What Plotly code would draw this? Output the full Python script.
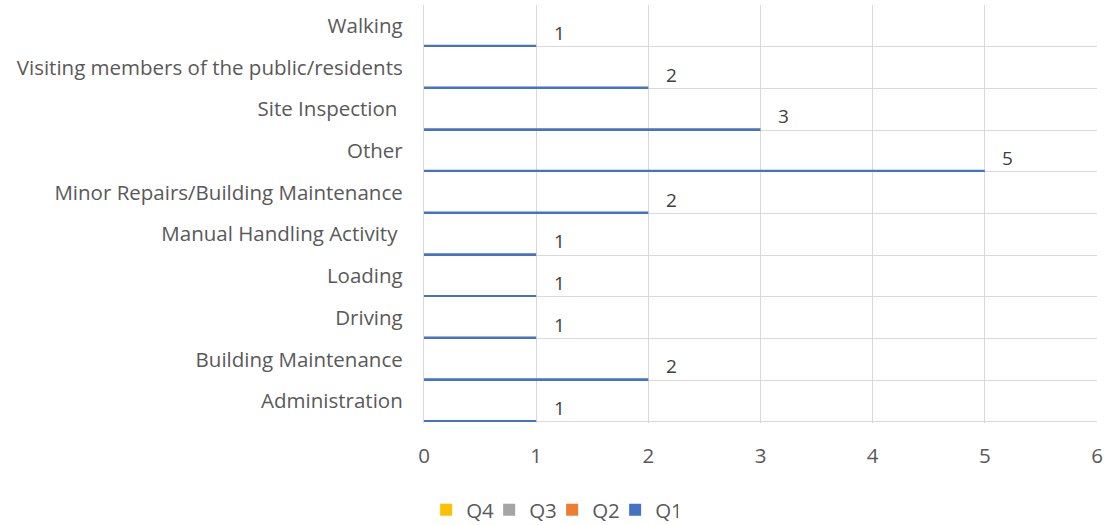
import plotly.graph_objects as go

categories = [
    "Administration",
    "Building Maintenance",
    "Driving",
    "Loading",
    "Manual Handling Activity\u00a0",
    "Minor Repairs/Building Maintenance",
    "Other",
    "Site Inspection\u00a0",
    "Visiting members of the public/residents",
    "Walking",
]
q1 = [1, 2, 1, 1, 1, 2, 5, 3, 2, 1]
q2 = [None] * len(categories)
q3 = [None] * len(categories)
q4 = [None] * len(categories)
x_ticks = [0, 1, 2, 3, 4, 5, 6]

FONT = "Open Sans"
FS = 20.5
TXT = "#595959"
GRID = "#D9D9D9"

fig = go.Figure()
series = [("Q1", q1, "#4472C4"), ("Q2", q2, "#ED7D31"), ("Q3", q3, "#A5A5A5"), ("Q4", q4, "#FFC000")]
for name, vals, col in series:
    fig.add_trace(go.Bar(
        name=name, x=vals, y=categories, orientation="h",
        marker=dict(color=col, line=dict(width=0)),
        width=0.045, offset=-0.5,
    ))

for c, v in zip(categories, q1):
    fig.add_annotation(
        x=v, y=c, xref="x", yref="y", text=str(v), showarrow=False,
        xanchor="center", yanchor="middle", xshift=23, yshift=-7,
        font=dict(family=FONT, size=19, color="#404040"),
    )

fig.update_layout(
    width=1104, height=525,
    margin=dict(l=424, r=7, t=5, b=102, autoexpand=False),
    paper_bgcolor="white", plot_bgcolor="white",
    barmode="overlay",
    showlegend=True,
    legend=dict(
        orientation="h", traceorder="reversed",
        xref="container", yref="container",
        x=0.386, xanchor="left", y=0.0286, yanchor="middle",
        font=dict(family=FONT, size=FS, color=TXT),
        itemwidth=30, entrywidth=18, entrywidthmode="pixels",
        itemclick=False,
    ),
    font=dict(family=FONT, size=FS, color=TXT),
)
fig.update_xaxes(
    range=[0, 6], tickvals=x_ticks, showgrid=True, gridcolor=GRID, gridwidth=1.3,
    zeroline=False, showline=False, ticks="", ticklabelstandoff=18, automargin=False,
    tickfont=dict(family=FONT, size=FS, color=TXT),
)
fig.update_yaxes(
    type="category", categoryorder="array", categoryarray=categories,
    tickson="boundaries", showgrid=True, gridcolor=GRID, gridwidth=1.3,
    showline=True, linecolor=GRID, linewidth=1.3, ticks="", automargin=False,
    ticklabelstandoff=16, tickfont=dict(family=FONT, size=FS, color=TXT),
)
fig.write_html("out.html", config={"displayModeBar": False},
               post_script="document.body.style.margin='0';")
